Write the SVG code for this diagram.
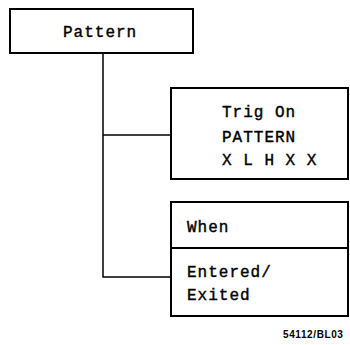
<svg xmlns="http://www.w3.org/2000/svg" width="350" height="345" viewBox="0 0 350 345">
<style>
.box{fill:#fff;stroke:#000;stroke-width:2}
.conn{fill:none;stroke:#000;stroke-width:1.5}
.t{font-family:"Liberation Mono",monospace;font-size:16px;letter-spacing:1px;fill:#000;stroke:#000;stroke-width:0.4}
.f{font-family:"Liberation Sans",sans-serif;font-size:10px;letter-spacing:0.6px;font-weight:bold;fill:#000}
</style>
<rect width="350" height="345" fill="#fff"/>
<g id="connectors">
<path class="conn" d="M103,53 V277 H171"/>
<path class="conn" d="M103,135 H171"/>
</g>
<g id="pattern">
<rect class="box" x="10" y="9" width="183" height="44"/>
<text class="t" x="63" y="37">Pattern</text>
</g>
<g id="trig">
<rect class="box" x="171" y="88" width="177" height="91"/>
<text class="t" x="222" y="117">Trig On</text>
<text class="t" x="222" y="142">PATTERN</text>
<text class="t" x="222" y="165">X L H X X</text>
</g>
<g id="when">
<rect class="box" x="171" y="202" width="177" height="114"/>
<line class="box" x1="171" y1="248" x2="348" y2="248"/>
<text class="t" x="187" y="232">When</text>
<text class="t" x="187" y="277">Entered/</text>
<text class="t" x="187" y="300">Exited</text>
</g>
<text class="f" x="283" y="338">54112/BL03</text>
</svg>
